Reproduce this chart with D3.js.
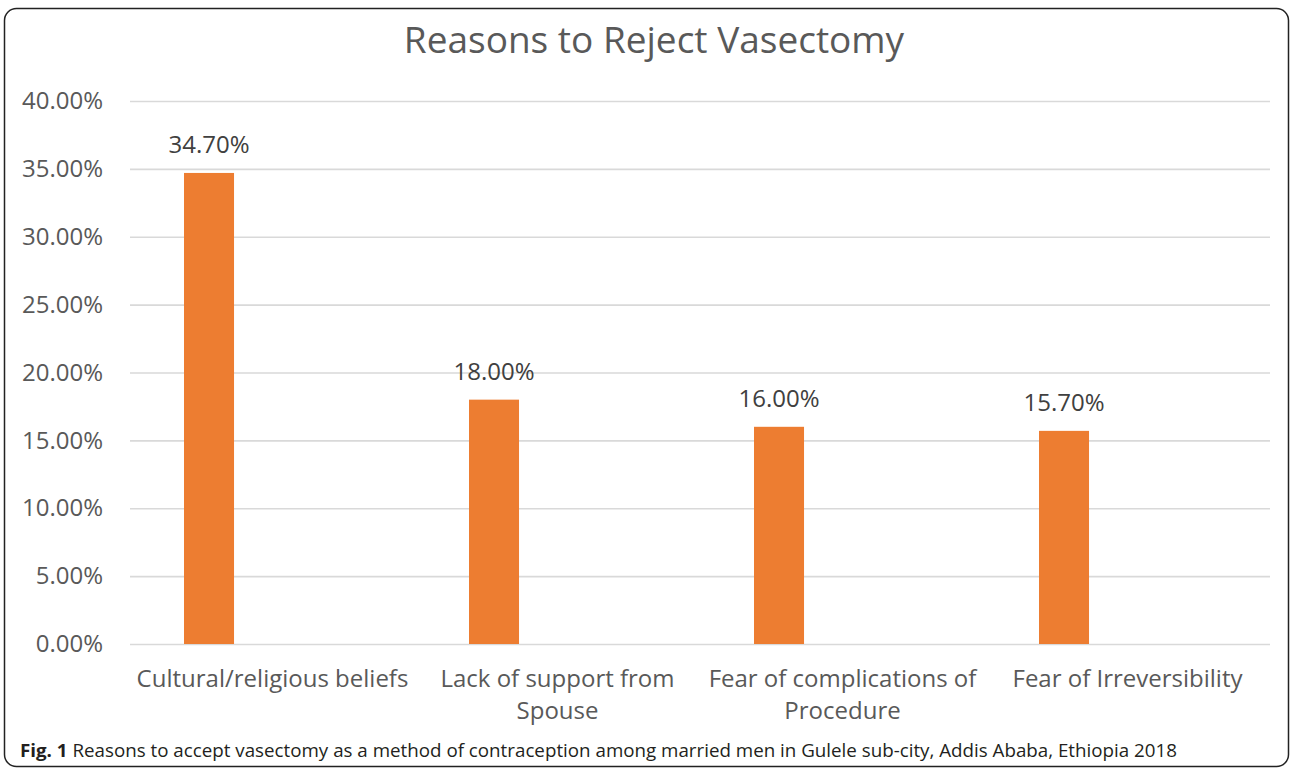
<!DOCTYPE html>
<html>
<head>
<meta charset="utf-8">
<script src="https://cdn.jsdelivr.net/npm/d3@7"></script>
<style>
  body { margin: 0; background: #fff; }
  text { font-family: "Open Sans", sans-serif; }
</style>
</head>
<body>
<div id="chart"></div>
<script>
// Data
var categories = ["Cultural/religious beliefs", "Lack of support from Spouse", "Fear of complications of Procedure", "Fear of Irreversibility"];
var values = [0.347, 0.18, 0.16, 0.157];
var series = ["Reasons", "blank"];
var yTicks = [0, 0.05, 0.10, 0.15, 0.20, 0.25, 0.30, 0.35, 0.40];
var title = "Reasons to Reject Vasectomy";

var svgWidth = 1290, svgHeight = 770;
var margin = { top: 101, right: 20, bottom: 126, left: 130 };
var width = svgWidth - margin.left - margin.right;
var height = svgHeight - margin.top - margin.bottom;

var svg = d3.select("#chart").append("svg")
    .attr("width", svgWidth)
    .attr("height", svgHeight);

// frame
svg.append("rect")
    .attr("x", 4.5).attr("y", 8.5)
    .attr("width", 1284).attr("height", 758)
    .attr("rx", 12).attr("ry", 12)
    .attr("fill", "none")
    .attr("stroke", "#222")
    .attr("stroke-width", 1.5);

svg.append("text")
    .text(title)
    .attr("x", 654)
    .attr("y", 53)
    .attr("text-anchor", "middle")
    .attr("fill", "#595959")
    .attr("font-size", 37);

var g = svg.append("g")
    .attr("transform", "translate(" + margin.left + "," + margin.top + ")");

var x = d3.scaleBand()
    .domain(categories)
    .range([0, width]);

// second (empty) series keeps the bars left of centre, like the original
var xs = d3.scaleBand()
    .domain(series)
    .range([54, x.bandwidth() - 54])
    .paddingInner(0.606);

var y = d3.scaleLinear()
    .domain([0, 0.40])
    .range([height, 0]);

// gridlines + tick labels
var yAxis = g.append("g")
    .call(d3.axisLeft(y).tickValues(yTicks).tickSize(-width).tickPadding(27)
        .tickFormat(function (d) { return (d * 100).toFixed(2) + "%"; }));
yAxis.select(".domain").remove();
yAxis.selectAll(".tick line")
    .attr("stroke", "#d9d9d9")
    .attr("stroke-width", 1.6);
yAxis.selectAll(".tick text")
    .attr("fill", "#595959")
    .attr("font-size", 24)
    .attr("font-family", "Open Sans, sans-serif");

// bars
var bars = g.selectAll(".bar")
    .data(values)
    .enter()
    .append("rect")
    .attr("class", "bar")
    .attr("x", function (d, i) { return x(categories[i]) + xs(series[0]); })
    .attr("y", function (d) { return y(d); })
    .attr("width", xs.bandwidth())
    .attr("height", function (d) { return height - y(d); })
    .attr("fill", "#ed7d31");

// value labels
g.selectAll(".lbl")
    .data(values)
    .enter()
    .append("text")
    .attr("class", "lbl")
    .text(function (d) { return (d * 100).toFixed(2) + "%"; })
    .attr("x", function (d, i) { return x(categories[i]) + xs(series[0]) + xs.bandwidth() / 2; })
    .attr("y", function (d) { return y(d) - 20; })
    .attr("text-anchor", "middle")
    .attr("fill", "#404040")
    .attr("font-size", 24);

// category labels, wrapped
var catText = g.selectAll(".cat")
    .data(categories)
    .enter()
    .append("text")
    .attr("class", "cat")
    .attr("x", function (d) { return x(d) + x.bandwidth() / 2; })
    .attr("y", height + 43)
    .attr("text-anchor", "middle")
    .attr("fill", "#595959")
    .attr("font-size", 24);

catText.each(function (d) {
    var el = d3.select(this);
    var words = d.split(" ");
    var line = [];
    var tspan = el.append("tspan").attr("x", el.attr("x")).attr("dy", 0);
    words.forEach(function (w) {
        line.push(w);
        tspan.text(line.join(" "));
        if (tspan.node().getComputedTextLength() > x.bandwidth() - 5 && line.length > 1) {
            line.pop();
            tspan.text(line.join(" "));
            line = [w];
            tspan = el.append("tspan").attr("x", el.attr("x")).attr("dy", 32).text(w);
        }
    });
});

// caption
var cap = svg.append("text")
    .attr("x", 20)
    .attr("y", 757)
    .attr("fill", "#231f20")
    .attr("font-size", 18);
cap.append("tspan").attr("font-weight", "bold").text("Fig. 1");
cap.append("tspan").text(" Reasons to accept vasectomy as a method of contraception among married men in Gulele sub-city, Addis Ababa, Ethiopia 2018");
cap.attr("textLength", 1157).attr("lengthAdjust", "spacingAndGlyphs");
</script>
</body>
</html>
